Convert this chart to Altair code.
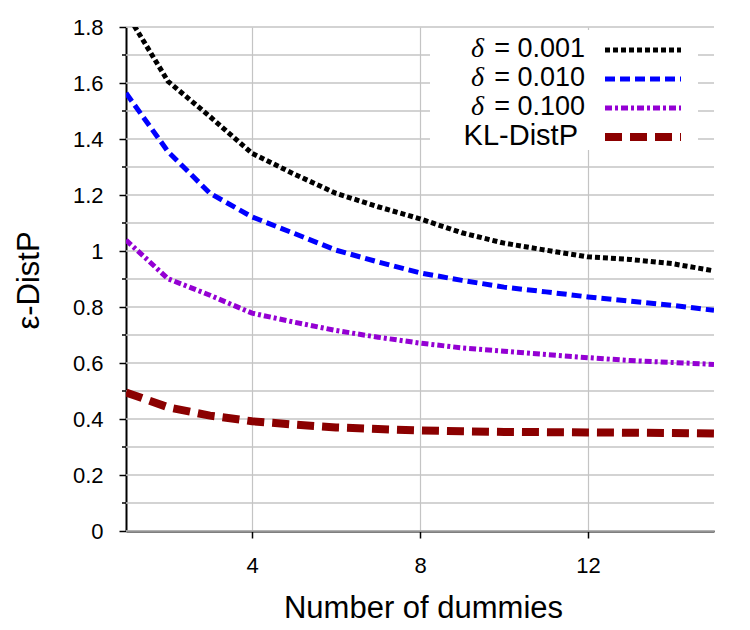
import altair as alt
import pandas as pd

# Number of dummies on the x axis
dummies = list(range(1, 16))

# epsilon-DistP for each privacy level
eps_d001 = [1.853, 1.606, 1.480, 1.349, 1.275, 1.206, 1.158, 1.115, 1.065, 1.028, 1.003, 0.979, 0.970, 0.955, 0.929]
eps_d010 = [1.564, 1.355, 1.206, 1.122, 1.063, 1.003, 0.961, 0.922, 0.895, 0.871, 0.854, 0.836, 0.821, 0.806, 0.788]
eps_d100 = [1.039, 0.901, 0.842, 0.778, 0.746, 0.716, 0.692, 0.671, 0.654, 0.642, 0.630, 0.619, 0.609, 0.602, 0.595]
kl_distp = [0.495, 0.442, 0.412, 0.392, 0.380, 0.370, 0.364, 0.359, 0.356, 0.354, 0.353, 0.352, 0.351, 0.350, 0.348]

series_names = ["δ = 0.001", "δ = 0.010", "δ = 0.100", "KL-DistP"]
series_values = [eps_d001, eps_d010, eps_d100, kl_distp]

x_ticks = [4, 8, 12]
y_major = [0, 0.2, 0.4, 0.6, 0.8, 1.0, 1.2, 1.4, 1.6, 1.8]
y_minor = [0.1, 0.3, 0.5, 0.7, 0.9, 1.1, 1.3, 1.5, 1.7]

FONT = "Liberation Sans"
W, H = 588, 504          # 42 px per dummy, 28 px per 0.1
PAD_L, PAD_T = 126, 27
GRID = "#c4c4c4"

styles = [
    dict(color="#000000", strokeDash=[5, 3], strokeWidth=5),
    dict(color="#0000ff", strokeDash=[10, 5], strokeWidth=5),
    dict(color="#9400d3", strokeDash=[7, 3, 3, 3], strokeWidth=5),
    dict(color="#8b0000", strokeDash=[17, 8], strokeWidth=8),
]

x_scale = alt.Scale(domain=[1, 15], nice=False, zero=False)
y_scale = alt.Scale(domain=[0, 1.8], nice=False)

x_axis = alt.Axis(
    values=x_ticks, grid=True, gridColor=GRID, gridWidth=1.2,
    domainColor="black", domainWidth=2, tickColor="black", tickWidth=1.5, tickSize=7,
    labelFont=FONT, labelFontSize=22, labelColor="black", labelPadding=17,
    title="Number of dummies", titleFont=FONT, titleFontSize=31, titleFontWeight="normal",
    titleColor="black", titleX=297, titleY=86, titleBaseline="alphabetic",
)
y_axis = alt.Axis(
    values=y_major, grid=False, format="~g",
    domainColor="black", domainWidth=2, tickColor="black", tickWidth=1.5, tickSize=7,
    labelFont=FONT, labelFontSize=22, labelColor="black", labelPadding=16,
    title="ε-DistP", titleFont=FONT, titleFontSize=31, titleFontWeight="normal",
    titleColor="black", titleAngle=270, titleX=-88, titleY=253,
    titleAlign="center", titleBaseline="alphabetic",
)

layers = []

# Horizontal grid every 0.1, spanning the full plot width
grid_df = pd.DataFrame({"g": y_major + y_minor})
layers.append(alt.Chart(grid_df).mark_rule(color=GRID, strokeWidth=1.5).encode(
    y=alt.Y("g:Q", scale=y_scale, axis=y_axis),
    x=alt.value(0), x2=alt.value(W),
))
# Short minor ticks between the labelled ones
minor_df = pd.DataFrame({"m": y_minor})
layers.append(alt.Chart(minor_df).mark_rule(color="black", strokeWidth=1.5, clip=False).encode(
    y=alt.Y("m:Q", scale=y_scale, axis=y_axis),
    x=alt.value(-4), x2=alt.value(0),
))

for i, (name, vals) in enumerate(zip(series_names, series_values)):
    df = pd.DataFrame({"dummies": dummies, "eps": vals, "series": name})
    layers.append(alt.Chart(df).mark_line(clip=True, **styles[i]).encode(
        x=alt.X("dummies:Q", scale=x_scale, axis=x_axis),
        y=alt.Y("eps:Q", scale=y_scale, axis=y_axis),
    ))

# Legend panel: a wide white band masks the grid behind the entries
one = pd.DataFrame({"k": [0]})
layers.append(alt.Chart(one).mark_rule(color="white", strokeWidth=120, strokeCap="butt").encode(
    x=alt.value(304), x2=alt.value(572), y=alt.value(63)
))

row0, row_gap = 22, 29
text_right, delta_right = 459, 358
sym_x1, sym_x2 = 479, 555
for i, name in enumerate(series_names):
    ry = row0 + i * row_gap
    if name.startswith("δ"):
        rest = name[1:].strip()
        layers.append(alt.Chart(one).mark_text(
            text="δ", font="Liberation Serif", fontStyle="italic", fontSize=28,
            align="right", baseline="middle", color="black",
        ).encode(x=alt.value(delta_right), y=alt.value(ry)))
        layers.append(alt.Chart(one).mark_text(
            text=rest, font=FONT, fontSize=27, align="right", baseline="middle", color="black",
        ).encode(x=alt.value(text_right), y=alt.value(ry)))
    else:
        layers.append(alt.Chart(one).mark_text(
            text=name, font=FONT, fontSize=29, align="right", baseline="middle", color="black",
        ).encode(x=alt.value(text_right - 7), y=alt.value(ry)))
    layers.append(alt.Chart(one).mark_rule(**styles[i]).encode(
        x=alt.value(sym_x1), x2=alt.value(sym_x2), y=alt.value(ry + 1)
    ))

chart = alt.layer(*layers).properties(
    width=W, height=H, background="white",
    padding={"left": PAD_L, "top": PAD_T, "right": 750 - PAD_L - W, "bottom": 630 - PAD_T - H},
    autosize="none",
).configure_view(strokeWidth=0).configure_axis(
    labelFont=FONT, labelFontSize=22, labelColor="black"
)

chart.save("out.html", embed_options={"renderer": "svg", "actions": False})
